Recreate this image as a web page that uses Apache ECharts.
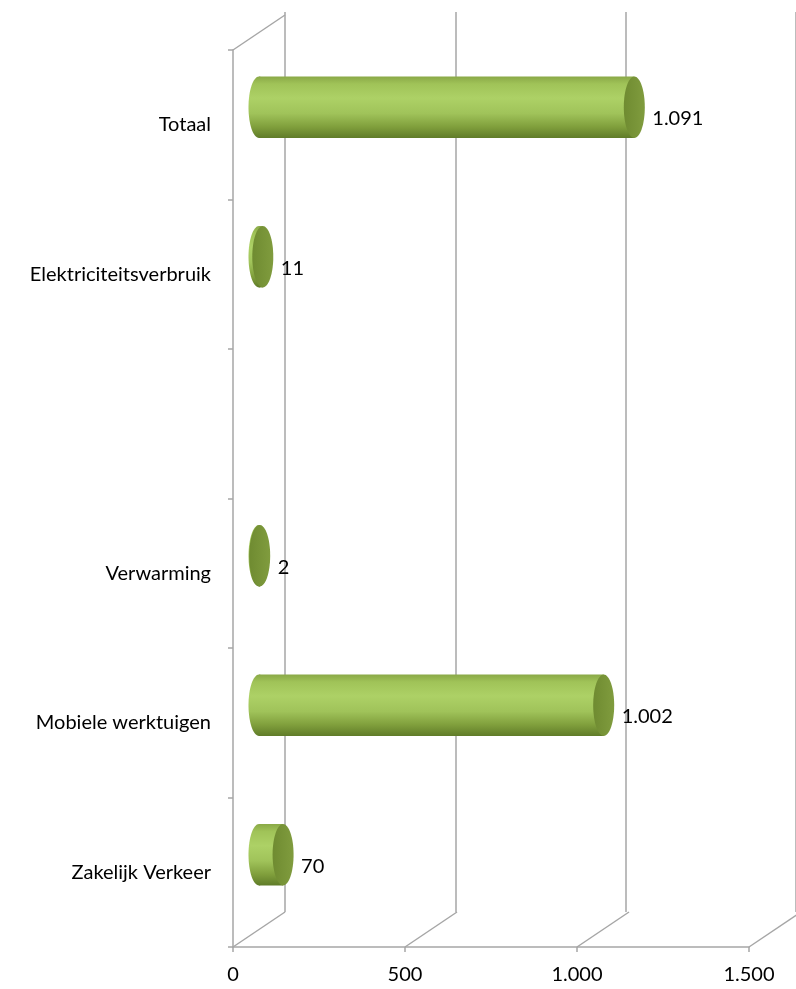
<!DOCTYPE html>
<html>
<head>
<meta charset="utf-8">
<script src="https://cdn.jsdelivr.net/npm/echarts@6/dist/echarts.min.js"></script>
<style>
  html, body { margin: 0; padding: 0; background: #fff; }
  #chart { width: 796px; height: 989px; }
</style>
</head>
<body>
<div id="chart"></div>
<script>
// data, bottom to top
var categories = ["Zakelijk Verkeer", "Mobiele werktuigen", "Verwarming", "", "Elektriciteitsverbruik", "Totaal"];
var values = [70, 1002, 2, null, 11, 1091];
var xTicks = [0, 500, 1000, 1500];

var DEPTH_X = 52, DEPTH_Y = -35;
var lineColor = "#a6a6a6";
var font = "Lato, 'Open Sans', sans-serif";

function nl(v) {
  return String(Math.round(v)).replace(/\B(?=(\d{3})+(?!\d))/g, ".");
}

var chart = echarts.init(document.getElementById("chart"));

var barData = [];
values.forEach(function (v, i) {
  if (v !== null) barData.push([v, i]);
});

// floor / top diagonals
function renderDepth(params, api) {
  var cs = params.coordSys;
  var v = api.value(0);
  var p = api.coord([v, 0]);
  var y = api.value(1) === 1 ? cs.y : cs.y + cs.height;
  return {
    type: "line",
    shape: { x1: p[0], y1: y, x2: p[0] + DEPTH_X, y2: y + DEPTH_Y },
    style: { stroke: lineColor, lineWidth: 1.5 }
  };
}

function renderBar(params, api) {
  var v = api.value(0);
  var idx = api.value(1);
  var p0 = api.coord([0, idx]);
  var p1 = api.coord([v, idx]);
  var band = api.size([0, 1])[1];
  var h = band * 0.41;
  var dx = DEPTH_X / 2, dy = DEPTH_Y / 2;
  var x0 = p0[0] + dx, x1 = p1[0] + dx, cy = p0[1] + dy;
  var rx = 10.5, ry = h / 2;
  var body = new echarts.graphic.LinearGradient(0, 0, 0, 1, [
    { offset: 0, color: "#8aa947" },
    { offset: 0.12, color: "#a0c358" },
    { offset: 0.35, color: "#add166" },
    { offset: 0.6, color: "#a0c35a" },
    { offset: 0.82, color: "#809f3c" },
    { offset: 1, color: "#607c29" }
  ]);
  var cap = new echarts.graphic.LinearGradient(0, 0, 1, 0, [
    { offset: 0, color: "#6f8b31" },
    { offset: 1, color: "#809c3e" }
  ]);
  return {
    type: "group",
    children: [
      { type: "ellipse", shape: { cx: x0, cy: cy, rx: rx, ry: ry }, style: { fill: body } },
      { type: "rect", shape: { x: x0, y: cy - ry, width: Math.max(x1 - x0, 0), height: h }, style: { fill: body } },
      { type: "ellipse", shape: { cx: x1, cy: cy, rx: rx, ry: ry }, style: { fill: cap } },
      {
        type: "text",
        style: {
          text: nl(v), x: p1[0] + 44, y: p0[1] - 6,
          fill: "#000", font: "20px " + font,
          align: "left", verticalAlign: "middle"
        }
      }
    ]
  };
}

var option = {
  animation: false,
  grid: [
    { left: 233, right: 47, top: 50, bottom: 42 },
    { left: 285, width: 516, top: 12, bottom: 77 }
  ],
  xAxis: [
    {
      gridIndex: 0, type: "value", min: 0, max: 1500, interval: 500,
      axisLine: { show: true, lineStyle: { color: lineColor, width: 1.5 } },
      axisTick: { show: true, length: 5, lineStyle: { color: lineColor, width: 1.5 } },
      splitLine: { show: false },
      axisLabel: { formatter: nl, color: "#000", fontSize: 20, fontFamily: font, margin: 18 }
    },
    {
      gridIndex: 1, type: "value", min: 0, max: 1500, interval: 500,
      axisLine: { show: false }, axisTick: { show: false }, axisLabel: { show: false },
      splitLine: { show: true, lineStyle: { color: lineColor, width: 1.5 } }
    }
  ],
  yAxis: [
    {
      gridIndex: 0, type: "category", data: categories,
      axisLine: { show: true, lineStyle: { color: lineColor, width: 1.5 } },
      axisTick: { show: true, length: 5, lineStyle: { color: lineColor, width: 1.5 } },
      axisLabel: { color: "#000", fontSize: 20, fontFamily: font, margin: 22 }
    },
    {
      gridIndex: 1, type: "category", data: categories,
      axisLine: { show: false }, axisTick: { show: false }, axisLabel: { show: false }
    }
  ],
  series: [
    {
      type: "custom", xAxisIndex: 0, yAxisIndex: 0,
      data: xTicks.map(function (t) { return [t, 0]; }).concat([[0, 1]]),
      renderItem: renderDepth, silent: true
    },
    {
      type: "custom", xAxisIndex: 0, yAxisIndex: 0,
      data: barData, renderItem: renderBar, z: 5
    }
  ]
};

chart.setOption(option);
</script>
</body>
</html>
